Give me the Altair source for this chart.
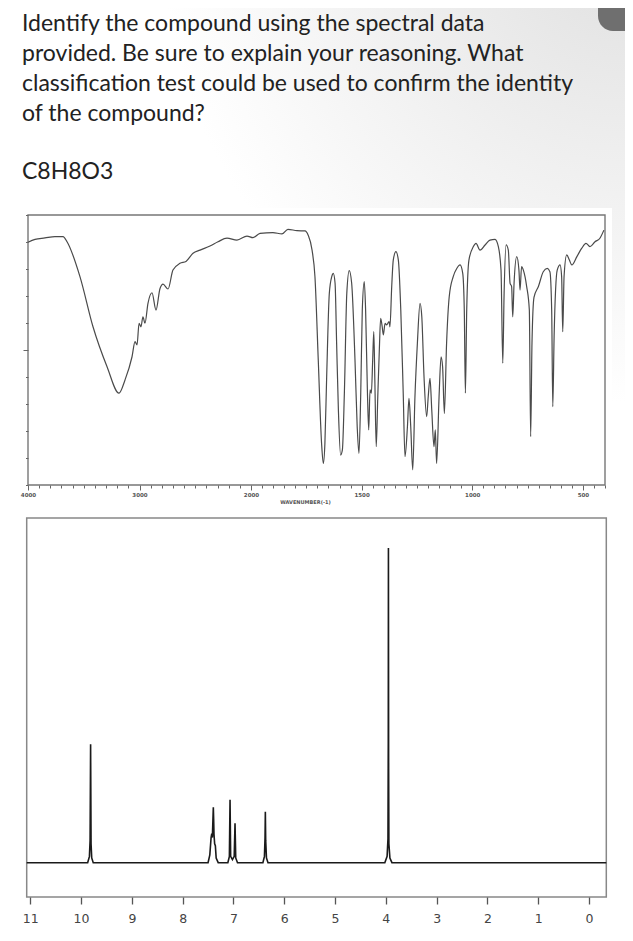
import altair as alt
import pandas as pd

# ---------------- data ----------------
question_lines = [
    "Identify the compound using the spectral data",
    "provided. Be sure to explain your reasoning. What",
    "classification test could be used to confirm the identity",
    "of the compound?",
]
formula = "C8H8O3"

ir_wavenumber = [
    4000, 3937, 3848, 3758, 3686, 3650, 3534, 3417, 3291, 3184, 3130, 3067, 3040, 3022,
    3004, 2987, 2969, 2951, 2924, 2888, 2852, 2816, 2789, 2744, 2700, 2637, 2583, 2520,
    2457, 2368, 2296, 2215, 2126, 2036, 1991, 1959, 1901, 1860, 1833, 1792, 1756, 1742,
    1724, 1711, 1696, 1681, 1673, 1666, 1658, 1646, 1635, 1628, 1620, 1613, 1605, 1595,
    1587, 1578, 1567, 1556, 1545, 1530, 1520, 1512, 1504, 1497, 1488, 1482, 1474, 1468,
    1462, 1456, 1450, 1445, 1440, 1434, 1427, 1420, 1414, 1407, 1402, 1394, 1387, 1376,
    1372, 1364, 1357, 1345, 1334, 1323, 1312, 1304, 1293, 1286, 1278, 1269, 1259, 1248,
    1236, 1228, 1218, 1206, 1199, 1191, 1183, 1173, 1167, 1161, 1150, 1141, 1134, 1126,
    1116, 1104, 1086, 1070, 1055, 1043, 1036, 1031, 1025, 1015, 995, 983, 965, 942, 920,
    897, 882, 870, 862, 856, 847, 837, 829, 822, 817, 811, 799, 789, 784, 777, 769, 754,
    742, 736, 730, 721, 701, 679, 661, 649, 641, 636, 630, 616, 603, 596, 591, 585, 573,
    561, 550, 527, 505, 486, 468, 445, 423, 405,
]
ir_transmittance = [
    89.9, 91.0, 91.5, 92.0, 92.0, 90.1, 77.2, 58.6, 43.8, 34.0, 38.9, 47.5, 53.1, 51.9,
    59.9, 58.6, 62.3, 59.9, 67.3, 71.2, 64.8, 72.8, 74.4, 72.6, 79.6, 82.1, 82.8, 85.8,
    87.0, 88.5, 90.1, 91.4, 90.7, 92.2, 91.6, 93.2, 93.5, 93.0, 94.7, 94.2, 94.1, 92.6,
    87.0, 77.2, 46.3, 15.4, 8.0, 15.4, 40.1, 71.0, 77.2, 78.4, 74.7, 52.5, 27.8, 11.1,
    13.0, 34.0, 71.0, 79.4, 74.7, 46.3, 21.6, 11.7, 34.0, 64.8, 75.3, 64.8, 35.2, 20.4,
    35.2, 34.0, 46.3, 56.8, 37.7, 14.2, 32.7, 50.0, 61.7, 58.6, 55.6, 59.9, 59.3, 60.5,
    58.6, 73.5, 83.3, 86.4, 83.3, 64.8, 34.0, 10.5, 21.6, 32.1, 21.6, 5.6, 32.7, 52.5,
    67.3, 62.3, 40.1, 25.3, 32.7, 39.5, 27.8, 14.2, 20.4, 8.0, 32.7, 47.5, 43.8, 26.5,
    52.5, 69.8, 77.2, 80.2, 81.5, 78.4, 64.8, 34.0, 64.8, 83.3, 88.3, 89.5, 87.0, 88.9, 90.7,
    91.0, 88.3, 79.6, 45.1, 71.0, 88.9, 87.0, 74.7, 73.5, 62.3, 74.7, 84.6, 79.6, 72.2, 80.9, 79.6, 73.5,
    64.8, 17.9, 52.5, 69.5, 73.5, 79.0, 80.2, 79.0, 64.8, 29.0, 55.0, 79.6, 81.5, 77.2, 56.8, 77.2, 85.2,
    83.3, 81.5, 84.6, 87.7, 89.5, 88.3, 90.1, 91.4, 94.4,
]
ir_tick_values = list(range(4000, 2000, -100)) + list(range(2000, 399, -50))
ir_label_values = [4000, 3000, 2000, 1500, 1000, 500]
ir_x_title = "WAVENUMBER(-1)"
ir_y_tick_values = list(range(0, 101, 10))

nmr_ppm = [
    11.07, 9.87, 9.835, 9.822, 9.812, 9.803, 9.79, 9.76,
    7.50, 7.465, 7.44, 7.427, 7.415, 7.403, 7.396, 7.39, 7.383, 7.37, 7.356, 7.34, 7.30,
    7.11, 7.08, 7.067, 7.055, 7.02, 6.985, 6.969, 6.955, 6.92,
    6.42, 6.39, 6.378, 6.372, 6.365, 6.35, 6.32,
    4.02, 3.975, 3.958, 3.952, 3.949, 3.945, 3.94, 3.92, 3.88,
    -0.34,
]
nmr_intensity = [
    0, 0, 2, 7, 37.6, 6, 1.5, 0,
    0, 2.5, 8, 9.2, 8, 14, 17.6, 14, 9, 6, 5.4, 1.5, 0,
    0, 2, 20, 2, 1, 2, 12.5, 1.5, 0,
    0, 2, 8, 16.2, 7, 1.5, 0,
    0, 2, 7.6, 38, 100, 30, 6, 1.5, 0,
    0,
]
nmr_tick_values = [i * 0.5 for i in range(0, 23)]

# ---------------- chart ----------------
W, H = 617, 925
one = pd.DataFrame({"k": [0]})

bg = alt.Chart(one).mark_rect(
    fill=alt.Gradient(
        gradient="radial",
        x1=1, y1=0.05, r1=0, x2=1, y2=0.05, r2=0.75,
        stops=[
            alt.GradientStop(color="#e0e0e0", offset=0),
            alt.GradientStop(color="#eeeeee", offset=0.45),
            alt.GradientStop(color="#ffffff", offset=1),
        ],
    )
).encode(x=alt.value(0), x2=alt.value(W), y=alt.value(0), y2=alt.value(420))

white_ir = alt.Chart(one).mark_rect(color="white").encode(
    x=alt.value(10), x2=alt.value(604), y=alt.value(200), y2=alt.value(505))
white_nmr = alt.Chart(one).mark_rect(color="white").encode(
    x=alt.value(10), x2=alt.value(604), y=alt.value(505), y2=alt.value(H))

blob = alt.Chart(one).mark_rect(color="#6f6f6f", cornerRadiusBottomLeft=15).encode(
    x=alt.value(590), x2=alt.value(640), y=alt.value(-20), y2=alt.value(23))

line_baselines = [23, 52.5, 82.5, 112.5]
text_layers = [
    alt.Chart(one).mark_text(
        text=txt, align="left", baseline="alphabetic", font="Lato",
        fontSize=23, color="#222222",
    ).encode(x=alt.value(14), y=alt.value(yb))
    for txt, yb in zip(question_lines, line_baselines)
]

text_f = alt.Chart(one).mark_text(
    text=formula, align="left", baseline="alphabetic", font="Lato",
    fontSize=23, color="#222222",
).encode(x=alt.value(14), y=alt.value(171))

ir_frame = alt.Chart(one).mark_rect(fill=None, stroke="#777777", strokeWidth=1.4).encode(
    x=alt.value(20), x2=alt.value(597), y=alt.value(207), y2=alt.value(477))
nmr_frame = alt.Chart(one).mark_rect(fill=None, stroke="#888888", strokeWidth=1.5).encode(
    x=alt.value(18.7), x2=alt.value(598.3), y=alt.value(510), y2=alt.value(889))

ir_df = pd.DataFrame({"wn": ir_wavenumber, "t": ir_transmittance})
ir_major_test = "indexof(" + str(ir_label_values) + ", datum.value) >= 0"
ir_line = alt.Chart(ir_df).mark_line(color="#4a4a4a", strokeWidth=1.2, interpolate="monotone").encode(
    x=alt.X("wn:Q",
            scale=alt.Scale(domain=[4000, 2000, 400], range=[20, 243, 597], nice=False, zero=False),
            axis=alt.Axis(orient="bottom", offset=-448, values=ir_tick_values, format="d",
                          labelExpr=ir_major_test + " ? datum.label : ''",
                          tickSize={"condition": {"test": ir_major_test, "value": 5}, "value": 3},
                          tickColor="#666666", tickWidth=1, domain=False, grid=False,
                          labelFont="DejaVu Sans", labelFontSize=5.5, labelFontWeight="bold",
                          labelColor="#555555", labelPadding=2, labelFlush=False,
                          title=ir_x_title, titleFont="DejaVu Sans", titleFontSize=5,
                          titleFontWeight="bold", titleColor="#555555",
                          titleX=297, titleY=16, titleAnchor="middle", titleBaseline="middle",
                          zindex=2)),
    y=alt.Y("t:Q",
            scale=alt.Scale(domain=[0, 100], range=[477, 207], nice=False, zero=False),
            axis=alt.Axis(orient="left", offset=-20, values=ir_y_tick_values, labels=False,
                          domain=False, grid=False, title=None, tickColor="#666666",
                          tickSize={"condition": {"test": "datum.value === 50", "value": 5}, "value": 2.5},
                          zindex=2)),
)

nmr_df = pd.DataFrame({"ppm": nmr_ppm, "h": nmr_intensity})
nmr_line = alt.Chart(nmr_df).mark_line(color="#1a1a1a", strokeWidth=1.6).encode(
    x=alt.X("ppm:Q",
            scale=alt.Scale(domain=[11.07, -0.34], range=[18.7, 598.3], nice=False, zero=False),
            axis=alt.Axis(orient="bottom", offset=-36, values=nmr_tick_values, format="d",
                          labelExpr="datum.value % 1 === 0 ? datum.label : ''",
                          tickSize={"condition": {"test": "datum.value % 1 === 0", "value": 7}, "value": 4},
                          tickColor="#555555", tickWidth=1.3, domain=False, grid=False,
                          labelFont="DejaVu Sans", labelFontSize=12.5, labelColor="#444444",
                          labelPadding=8, labelFlush=False, title=None, zindex=2)),
    y=alt.Y("h:Q",
            scale=alt.Scale(domain=[-10.9, 109.5], range=[889, 510], nice=False, zero=False),
            axis=None),
)

chart = alt.layer(
    bg, white_ir, white_nmr, blob, *text_layers, text_f, ir_frame, nmr_frame, ir_line, nmr_line
).resolve_scale(x="independent", y="independent").properties(
    width=W, height=H, autosize=alt.AutoSizeParams(type="none"), padding=0,
    background="white",
).configure_view(stroke=None)

chart.save("out.html", embed_options={"renderer": "svg", "actions": False})
